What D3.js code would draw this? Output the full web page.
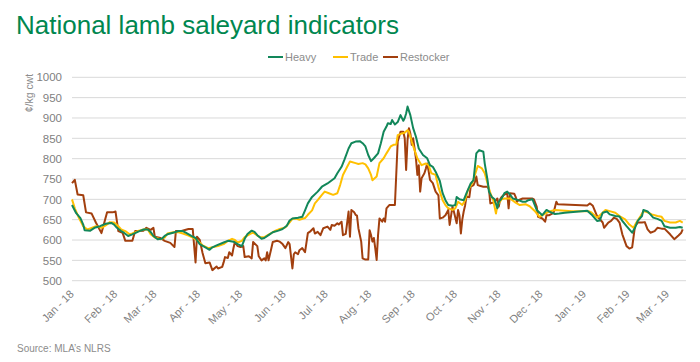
<!DOCTYPE html>
<html>
<head>
<meta charset="utf-8">
<script src="https://cdn.jsdelivr.net/npm/d3@7"></script>
<style>
    body { margin: 0; background: #fff; }
    text { font-family: "Liberation Sans", Arial, sans-serif; }
</style>
</head>
<body>
<div id="viz-container"></div>
<script>
// Series: [day since 1 Jan 2018, c/kg cwt]
const startDate = new Date(2018, 0, 1);
const endDate = new Date(2019, 2, 12);

const heavy = [[0,686],[3,666],[6,654],[8,638],[9,624],[13,623],[16,630],[20,634],[24,640],[28,642],[30,638],[32,630],[35,622],[37,618],[40,610],[43,614],[48,622],[51,626],[54,626],[56,620],[58,610],[61,602],[64,603],[66,610],[68,614],[72,618],[76,622],[79,622],[81,618],[85,610],[88,605],[91,590],[95,582],[98,576],[100,582],[103,587],[108,594],[111,598],[115,596],[118,590],[121,585],[123,603],[125,615],[128,623],[130,620],[132,612],[135,603],[137,605],[140,612],[143,619],[147,623],[150,627],[153,635],[155,648],[157,653],[161,655],[164,657],[166,673],[168,690],[171,706],[175,719],[178,731],[182,739],[187,752],[189,764],[192,780],[194,797],[197,825],[199,838],[202,842],[205,843],[207,838],[209,830],[211,809],[213,794],[215,801],[218,813],[220,838],[222,866],[224,879],[225,887],[227,885],[228,895],[230,884],[232,890],[234,907],[236,893],[237,900],[238,911],[239,928],[241,907],[243,875],[245,854],[247,825],[250,809],[253,801],[255,784],[257,780],[259,768],[262,745],[264,715],[266,698],[268,686],[271,684],[273,686],[274,706],[276,700],[279,698],[281,715],[284,739],[286,747],[287,780],[288,813],[290,821],[293,817],[294,788],[296,747],[297,719],[299,706],[301,700],[303,678],[304,694],[306,702],[308,715],[310,719],[312,712],[314,702],[318,698],[321,694],[323,694],[325,698],[328,700],[331,674],[335,661],[338,674],[340,670],[344,664],[347,665],[351,667],[367,672],[370,663],[374,647],[376,648],[378,667],[381,670],[383,663],[387,659],[390,658],[392,647],[395,634],[397,626],[399,618],[401,630],[403,647],[406,659],[407,674],[410,670],[412,663],[414,655],[417,652],[420,647],[422,634],[426,630],[430,630],[433,632],[435,630]];

const trade = [[0,700],[2,678],[5,654],[8,634],[11,626],[14,630],[17,634],[21,630],[24,636],[27,644],[30,643],[33,634],[35,626],[38,622],[41,614],[43,616],[47,622],[51,626],[54,626],[56,614],[59,606],[63,602],[66,606],[68,616],[72,619],[76,619],[79,616],[83,611],[86,606],[89,600],[93,587],[97,580],[100,582],[104,585],[108,590],[111,598],[114,603],[116,600],[118,594],[121,598],[123,607],[127,615],[129,618],[132,611],[134,607],[137,607],[141,615],[145,623],[148,627],[152,631],[154,639],[157,652],[160,652],[162,650],[166,654],[168,662],[171,673],[173,690],[175,698],[178,711],[180,719],[183,715],[186,711],[189,715],[191,735],[193,760],[196,780],[198,793],[202,789],[204,787],[207,789],[209,786],[211,776],[213,760],[214,747],[217,756],[219,789],[222,801],[224,813],[227,830],[229,834],[231,835],[232,858],[235,862],[237,864],[239,870],[240,866],[242,842],[244,821],[246,801],[249,784],[252,788],[254,784],[256,764],[259,760],[261,730],[264,698],[266,686],[268,678],[271,674],[273,678],[275,694],[278,686],[280,698],[282,723],[285,739],[287,760],[289,782],[292,776],[294,764],[296,739],[298,715],[300,698],[302,665],[303,686],[306,700],[308,702],[312,702],[316,692],[319,686],[323,688],[326,683],[330,670],[333,657],[337,665],[340,670],[344,674],[356,671],[368,671],[370,668],[374,655],[378,667],[380,674],[383,671],[387,667],[390,659],[394,651],[397,638],[400,630],[402,643],[405,659],[407,671],[410,668],[413,663],[417,659],[420,657],[422,647],[426,643],[430,643],[433,647],[435,643]];

const restocker = [[0,740],[2,748],[4,712],[8,710],[10,668],[14,665],[17,643],[21,617],[25,668],[29,668],[31,670],[33,622],[36,618],[38,598],[43,598],[45,622],[51,623],[53,630],[56,625],[58,630],[59,608],[63,605],[66,598],[70,593],[73,583],[74,622],[78,622],[83,627],[86,627],[88,545],[89,608],[91,600],[93,568],[95,543],[98,545],[100,526],[103,535],[104,530],[107,534],[108,545],[109,558],[111,556],[112,570],[114,562],[115,580],[116,595],[118,585],[120,583],[122,585],[123,558],[126,560],[128,555],[129,595],[132,585],[133,560],[135,550],[137,555],[138,550],[139,570],[140,550],[142,580],[143,595],[146,598],[148,596],[150,590],[152,580],[154,595],[155,590],[157,530],[158,565],[159,570],[161,565],[162,575],[164,580],[166,570],[168,617],[170,622],[172,629],[173,616],[175,620],[177,612],[179,629],[182,633],[184,625],[185,637],[187,635],[189,641],[190,638],[192,645],[193,612],[195,615],[197,670],[198,608],[199,674],[201,668],[202,662],[203,660],[204,629],[206,596],[207,555],[209,552],[211,552],[212,624],[213,612],[214,596],[215,605],[216,580],[217,551],[218,612],[219,653],[221,645],[222,653],[223,645],[224,678],[226,686],[230,686],[232,842],[233,854],[234,866],[236,866],[237,850],[238,772],[239,846],[240,875],[241,862],[242,834],[243,850],[244,825],[245,800],[246,760],[247,784],[248,719],[249,752],[251,764],[252,775],[253,788],[254,770],[255,748],[257,740],[259,719],[261,710],[262,653],[264,655],[266,661],[268,674],[269,637],[271,682],[272,670],[274,641],[275,674],[276,660],[277,616],[278,650],[279,670],[280,685],[281,707],[283,705],[284,731],[286,735],[287,743],[288,756],[289,735],[291,733],[293,731],[296,731],[297,725],[298,690],[300,692],[301,694],[303,702],[304,682],[305,700],[306,706],[308,712],[310,715],[311,678],[312,715],[315,714],[316,706],[317,694],[318,698],[321,702],[325,702],[328,702],[329,700],[331,682],[332,657],[335,653],[337,645],[338,661],[340,661],[343,667],[345,694],[346,688],[367,685],[369,690],[371,684],[374,659],[378,643],[379,630],[382,643],[384,647],[386,655],[388,652],[390,643],[392,614],[395,585],[397,579],[399,582],[401,634],[403,643],[406,643],[408,644],[410,626],[412,618],[415,622],[417,630],[420,628],[422,628],[426,614],[429,602],[432,611],[434,618],[435,626]];

const seriesNames = ["Heavy", "Trade", "Restocker"];
const seriesColors = ["#12875a", "#ffc000", "#a23f0e"];
const yTicks = [500, 550, 600, 650, 700, 750, 800, 850, 900, 950, 1000];

const W = 700, H = 362;
const plot = { left: 72, right: 686, top: 77.3, bottom: 280.7 };

const svg = d3.select("#viz-container")
    .append("svg")
    .attr("width", W)
    .attr("height", H);

// Title
svg.append("text")
    .attr("x", 16)
    .attr("y", 34)
    .attr("fill", "#00874f")
    .attr("font-size", "26px")
    .text("National lamb saleyard indicators");

// Scales
const x = d3.scaleTime()
    .domain([startDate, endDate])
    .range([72, 682.7]);
const y = d3.scaleLinear()
    .domain([500, 1000])
    .range([plot.bottom, plot.top]);

// Gridlines
svg.append("g")
    .selectAll("line")
    .data(yTicks)
    .enter().append("line")
    .attr("x1", plot.left)
    .attr("x2", plot.right)
    .attr("y1", d => y(d))
    .attr("y2", d => y(d))
    .attr("stroke", "#d9d9d9")
    .attr("stroke-width", 1);

// Y axis labels
const yAxis = svg.append("g")
    .attr("transform", `translate(${plot.left - 10},0)`)
    .call(d3.axisLeft(y).tickValues(yTicks).tickFormat(d3.format("d")).tickSize(0).tickPadding(0));
yAxis.select(".domain").remove();
yAxis.selectAll("text")
    .attr("fill", "#7f7f7f")
    .style("font-size", "11.5px")
    .style("font-family", "Liberation Sans, Arial, sans-serif");

svg.append("text")
    .attr("transform", `translate(33,93) rotate(-90)`)
    .attr("text-anchor", "middle")
    .attr("fill", "#8c8c8c")
    .attr("font-size", "10.5px")
    .text("¢/kg cwt");

// X axis (monthly, rotated)
const xAxis = svg.append("g")
    .attr("transform", `translate(0,${plot.bottom})`)
    .call(d3.axisBottom(x)
        .ticks(d3.timeMonth.every(1))
        .tickFormat(d3.timeFormat("%b - %y"))
        .tickSize(0));
xAxis.select(".domain").remove();
xAxis.selectAll("text")
    .attr("fill", "#7f7f7f")
    .style("font-size", "11px")
    .style("font-family", "Liberation Sans, Arial, sans-serif")
    .attr("text-anchor", "end")
    .attr("dy", null)
    .attr("y", 0)
    .attr("transform", "translate(2,14) rotate(-45)");

// Lines
const line = d3.line()
    .x(d => x(d3.timeDay.offset(startDate, d[0])))
    .y(d => y(d[1]));

// draw restocker first, heavy on top like the original
[restocker, trade, heavy].forEach((s, i) => {
    svg.append("path")
        .datum(s)
        .attr("fill", "none")
        .attr("stroke", seriesColors[2 - i])
        .attr("stroke-width", 2)
        .attr("stroke-linejoin", "round")
        .attr("d", line);
});

// Legend
const legendX = [268, 333, 383];
const legend = svg.append("g");
seriesNames.forEach((name, i) => {
    legend.append("line")
        .attr("x1", legendX[i])
        .attr("x2", legendX[i] + 15)
        .attr("y1", 57)
        .attr("y2", 57)
        .attr("stroke", seriesColors[i])
        .attr("stroke-width", 2);
    legend.append("text")
        .attr("x", legendX[i] + 17)
        .attr("y", 61)
        .attr("fill", "#8c8c8c")
        .attr("font-size", "11px")
        .text(name);
});

// Source
svg.append("text")
    .attr("x", 17)
    .attr("y", 352)
    .attr("fill", "#8c8c8c")
    .attr("font-size", "10px")
    .text("Source: MLA’s NLRS");
</script>
</body>
</html>
